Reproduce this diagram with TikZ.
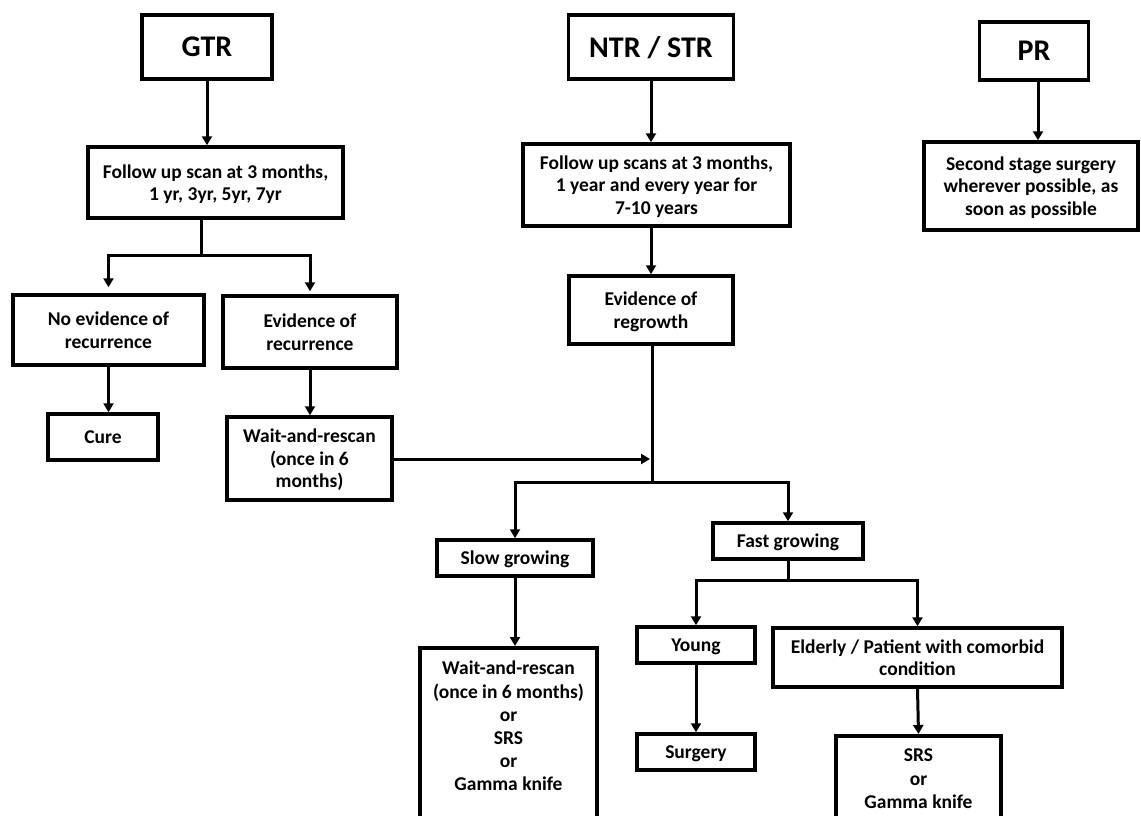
\documentclass[tikz,border=0pt]{standalone}
\usepackage{fontspec}
\setmainfont{Carlito}
\usepackage{tikz}
\usetikzlibrary{positioning, arrows.meta}
\tikzset{
    x=1pt, y=-1pt, % one unit is one pixel of the page, y runs down
    every node/.style={font=\bfseries\fontsize{19.5}{22.5}\selectfont}, % all text is bold
    box/.style={draw, line width=3.5pt, align=center, inner sep=3pt, text depth=0pt}, % the framed steps
    inner/.style={align=center, inner sep=0pt, font=\bfseries\fontsize{19.5}{23.2}\selectfont}, % text set inside an open box
    title/.style={box, font=\bfseries\fontsize{30}{34}\selectfont}, % the three top boxes
    link/.style={line width=3pt}, % plain joining lines
    >={Triangle[length=9pt, width=10pt]}, % filled arrow heads
}
\begin{document}
\begin{tikzpicture}
    \useasboundingbox[fill=white] (0,0) rectangle (1141,816);
    % top row
    \node[title, minimum width=130, minimum height=64] (gtr) at (207,47) {GTR};
    \node[title, minimum width=165, minimum height=64] (ntr) at (651,47) {NTR / STR};
    \node[title, minimum width=109, minimum height=58] (pr) at (1034,51) {PR};
    % follow up
    \node[box, minimum width=255, minimum height=71] (fu1) at (215.5,182.5) {Follow up scan at 3 months,\\1 yr, 3yr, 5yr, 7yr};
    \node[box, minimum width=267, minimum height=82] (fu2) at (656.5,185) {Follow up scans at 3 months,\\1 year and every year for\\7-10 years};
    \node[box, minimum width=214, minimum height=88] (second) at (1031,186) {Second stage surgery\\wherever possible, as\\soon as possible};
    % GTR branch
    \node[box, minimum width=191, minimum height=70] (noev) at (108.5,330) {No evidence of\\recurrence};
    \node[box, minimum width=174, minimum height=72] (evrec) at (310,332) {Evidence of\\recurrence};
    \node[box, minimum width=110, minimum height=46] (cure) at (103,437) {Cure};
    \node[box, minimum width=165, minimum height=83] (wait1) at (309.5,458.5) {Wait-and-rescan\\(once in 6\\months)};
    % NTR / STR branch
    \node[box, minimum width=164, minimum height=68] (regrow) at (651,310) {Evidence of\\regrowth};
    \node[box, minimum width=156, minimum height=36] (slow) at (515,558) {Slow growing};
    \node[box, minimum width=150, minimum height=36] (fast) at (788,541) {Fast growing};
    \node[box, minimum width=118, minimum height=36] (young) at (696,645) {Young};
    \node[box, minimum width=289, minimum height=59] (elderly) at (917.5,657.5) {Elderly / Patient with comorbid\\condition};
    \node[box, minimum width=118, minimum height=36] (surgery) at (696,752) {Surgery};
    \node[box, minimum width=177, minimum height=190, anchor=north] (wait2) at (508.5,646) {};
    \node[inner, below=15pt of wait2.north] (wait2txt) {Wait-and-rescan\\(once in 6 months)\\or\\SRS\\or\\Gamma knife};
    \node[box, minimum width=165, minimum height=100, anchor=north] (srs) at (918.5,734) {};
    \node[inner, below=15pt of srs.north] (srstxt) {SRS\\or\\Gamma knife};
    % joins
    \coordinate (b1) at (201,255);
    \coordinate (b2) at (652,482);
    \coordinate (b3) at (788,580);
    % connectors
    \draw[link, ->] (gtr.south) -- (gtr.south |- fu1.north);
    \draw[link] (fu1.south -| b1) -- (b1);
    \draw[link, ->, shorten >=6pt] (b1) -| (noev.north);
    \draw[link, ->, shorten >=3pt] (b1) -| (evrec.north);
    \draw[link, ->] (noev.south) -- (noev.south |- cure.north);
    \draw[link, ->] (evrec.south) -- (evrec.south |- wait1.north);
    \draw[link, ->] (ntr.south) -- (ntr.south |- fu2.north);
    \draw[link, ->] (fu2.south -| regrow) -- (regrow.north);
    \draw[link] (regrow.south -| b2) -- (b2);
    \draw[link, ->, shorten >=2pt] (wait1.east |- 0,459) -- (b2 |- 0,459);
    \draw[link, ->] (b2) -| (slow.north);
    \draw[link, ->] (b2) -| (fast.north);
    \draw[link, ->] (slow.south) -- (slow.south |- wait2.north);
    \draw[link] (fast.south) -- (b3);
    \draw[link, ->] (b3) -| (young.north);
    \draw[link, ->] (b3) -| (elderly.north);
    \draw[link, ->] (young.south) -- (surgery.north);
    \draw[link, ->] (elderly.south) -- (srs.north);
    \draw[link, ->] (pr.south -| 1038,0) -- (1038,0 |- second.north);
\end{tikzpicture}
\end{document}
